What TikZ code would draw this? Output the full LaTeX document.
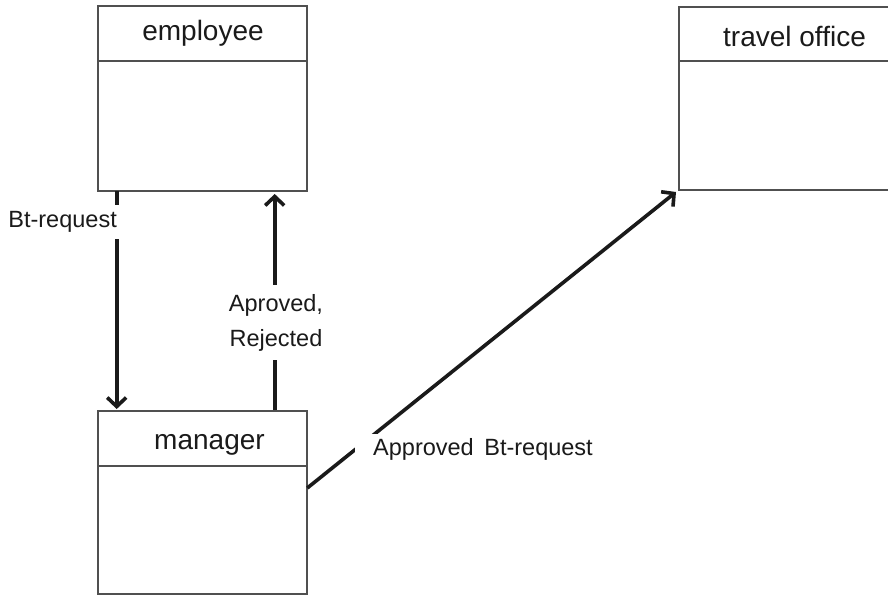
\documentclass[tikz,border=0pt]{standalone}
\usepackage{fontspec}
\setmainfont{Liberation Sans}
\usetikzlibrary{arrows.meta}
\definecolor{boxline}{HTML}{505050}
\definecolor{ink}{HTML}{1A1A1A}
\tikzset{
  classbox/.style={draw=boxline, line width=2pt, fill=white, inner sep=0pt},
  divider/.style={draw=boxline, line width=2pt},
  title/.style={font=\fontsize{28}{32}\selectfont, text=ink, inner sep=0pt, anchor=base},
  flow/.style={draw=ink, line width=3.6pt, -{Straight Barb[length=9pt,width=19pt,line width=3.6pt]}},
  flowlabel/.style={font=\fontsize{23.5}{35}\selectfont, text=ink, fill=white}
}
\begin{document}
\begin{tikzpicture}[x=1pt,y=-1pt]
\useasboundingbox (0,0) rectangle (888,596);
\clip (0,0) rectangle (888,596);
\fill[white] (0,0) rectangle (888,596);
% boxes
\node[classbox, minimum width=209.5pt, minimum height=184.5pt] (emp) at (202.5,98.5) {};
\node[classbox, minimum width=212pt, minimum height=183.5pt] (trav) at (784.5,98.3) {};
\node[classbox, minimum width=209.5pt, minimum height=183pt] (mgr) at (202.5,502.5) {};
% dividers
\coordinate (empdivL) at (97.7,61.5);
\coordinate (empdivR) at (307.3,61.5);
\coordinate (travdivL) at (678.5,61.5);
\coordinate (travdivR) at (890,61.5);
\coordinate (mgrdivL) at (97.7,466);
\coordinate (mgrdivR) at (307.3,466);
\draw[divider] (empdivL) -- (empdivR);
\draw[divider] (travdivL) -- (travdivR);
\draw[divider] (mgrdivL) -- (mgrdivR);
% titles
\node[title] (empT) at (203,40.5) {employee};
\node[title] (travT) at (794.5,46.5) {travel office};
\node[title] (mgrT) at (209.5,449.5) {manager};
% connectors
\coordinate (a1) at (116.7,191);
\coordinate (a2) at (116.7,409);
\draw[flow] (a1) -- (a2);
\coordinate (b1) at (274.7,410);
\coordinate (b2) at (274.7,194);
\draw[flow] (b1) -- (b2);
\coordinate (c1) at (307.3,488);
\coordinate (c2) at (676,192);
\draw[flow] (c1) -- (c2);
% labels
\node[flowlabel, anchor=east, inner xsep=4pt, inner ysep=6pt] (la) at (121,222) {Bt-request};
\node[flowlabel, align=center, inner xsep=3pt, inner ysep=9pt] (lb) at (276,322.5) {Aproved,\\Rejected};
\node[flowlabel, anchor=west, inner xsep=18pt, inner ysep=5pt] (lc) at (355,449.5) {Approved\hspace{0.45em}Bt-request};
\end{tikzpicture}
\end{document}
